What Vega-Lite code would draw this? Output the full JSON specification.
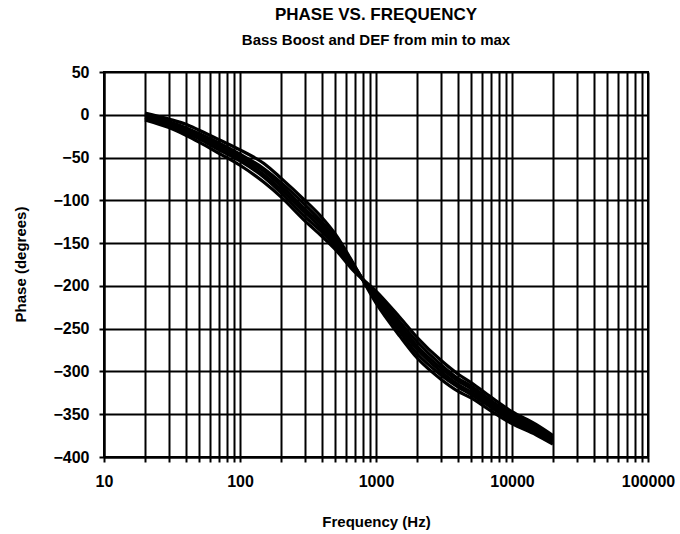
{
  "$schema": "https://vega.github.io/schema/vega-lite/v6.json",
  "width": 544,
  "height": 385,
  "autosize": {"type": "none"},
  "padding": {"left": 104, "top": 72, "right": 32, "bottom": 77},
  "background": "white",
  "title": {
    "text": "PHASE VS. FREQUENCY",
    "subtitle": "Bass Boost and DEF from min to max",
    "anchor": "middle",
    "font": "Liberation Sans",
    "fontSize": 17,
    "fontWeight": "bold",
    "color": "black",
    "subtitleFont": "Liberation Sans",
    "subtitleFontSize": 15,
    "subtitleFontWeight": "bold",
    "subtitleColor": "black",
    "subtitlePadding": 9,
    "offset": 15
  },
  "config": {
    "view": {"stroke": "black", "strokeWidth": 2},
    "axis": {
      "labelFont": "Liberation Sans",
      "labelFontSize": 16,
      "labelFontWeight": "bold",
      "labelColor": "black",
      "titleFont": "Liberation Sans",
      "titleFontSize": 15,
      "titleFontWeight": "bold",
      "titleColor": "black",
      "gridColor": "black",
      "gridOpacity": 1,
      "gridWidth": 2,
      "tickColor": "black",
      "tickWidth": 2,
      "tickSize": 5,
      "domainColor": "black",
      "domainWidth": 2
    }
  },
  "data": {
    "values": [
      {"f":20,"p":-6,"c":"1"},{"f":30,"p":-15,"c":"1"},{"f":40,"p":-24,"c":"1"},{"f":50,"p":-32,"c":"1"},{"f":70,"p":-45,"c":"1"},{"f":100,"p":-59,"c":"1"},{"f":150,"p":-79,"c":"1"},{"f":200,"p":-96,"c":"1"},{"f":300,"p":-124,"c":"1"},{"f":400,"p":-142,"c":"1"},{"f":500,"p":-157,"c":"1"},{"f":700,"p":-184,"c":"1"},{"f":1000,"p":-206,"c":"1"},{"f":1500,"p":-237,"c":"1"},{"f":2000,"p":-260,"c":"1"},{"f":3000,"p":-287,"c":"1"},{"f":4000,"p":-303,"c":"1"},{"f":5000,"p":-313,"c":"1"},{"f":7000,"p":-330,"c":"1"},{"f":10000,"p":-347,"c":"1"},{"f":15000,"p":-362,"c":"1"},{"f":20000,"p":-375,"c":"1"},
      {"f":20,"p":-4,"c":"2"},{"f":30,"p":-12,"c":"2"},{"f":40,"p":-21,"c":"2"},{"f":50,"p":-28,"c":"2"},{"f":70,"p":-41,"c":"2"},{"f":100,"p":-54,"c":"2"},{"f":150,"p":-73,"c":"2"},{"f":200,"p":-91,"c":"2"},{"f":300,"p":-119,"c":"2"},{"f":400,"p":-137,"c":"2"},{"f":500,"p":-153,"c":"2"},{"f":700,"p":-182,"c":"2"},{"f":1000,"p":-209,"c":"2"},{"f":1500,"p":-242,"c":"2"},{"f":2000,"p":-265,"c":"2"},{"f":3000,"p":-292,"c":"2"},{"f":4000,"p":-308,"c":"2"},{"f":5000,"p":-317,"c":"2"},{"f":7000,"p":-334,"c":"2"},{"f":10000,"p":-350,"c":"2"},{"f":15000,"p":-365,"c":"2"},{"f":20000,"p":-378,"c":"2"},
      {"f":20,"p":-3,"c":"3"},{"f":30,"p":-11,"c":"3"},{"f":40,"p":-19,"c":"3"},{"f":50,"p":-26,"c":"3"},{"f":70,"p":-38,"c":"3"},{"f":100,"p":-51,"c":"3"},{"f":150,"p":-70,"c":"3"},{"f":200,"p":-87,"c":"3"},{"f":300,"p":-114,"c":"3"},{"f":400,"p":-133,"c":"3"},{"f":500,"p":-150,"c":"3"},{"f":700,"p":-181,"c":"3"},{"f":1000,"p":-212,"c":"3"},{"f":1500,"p":-246,"c":"3"},{"f":2000,"p":-270,"c":"3"},{"f":3000,"p":-296,"c":"3"},{"f":4000,"p":-311,"c":"3"},{"f":5000,"p":-320,"c":"3"},{"f":7000,"p":-337,"c":"3"},{"f":10000,"p":-353,"c":"3"},{"f":15000,"p":-367,"c":"3"},{"f":20000,"p":-379,"c":"3"},
      {"f":20,"p":-1,"c":"4"},{"f":30,"p":-9,"c":"4"},{"f":40,"p":-17,"c":"4"},{"f":50,"p":-24,"c":"4"},{"f":70,"p":-36,"c":"4"},{"f":100,"p":-49,"c":"4"},{"f":150,"p":-66,"c":"4"},{"f":200,"p":-83,"c":"4"},{"f":300,"p":-110,"c":"4"},{"f":400,"p":-129,"c":"4"},{"f":500,"p":-146,"c":"4"},{"f":700,"p":-179,"c":"4"},{"f":1000,"p":-214,"c":"4"},{"f":1500,"p":-250,"c":"4"},{"f":2000,"p":-274,"c":"4"},{"f":3000,"p":-300,"c":"4"},{"f":4000,"p":-315,"c":"4"},{"f":5000,"p":-324,"c":"4"},{"f":7000,"p":-339,"c":"4"},{"f":10000,"p":-355,"c":"4"},{"f":15000,"p":-369,"c":"4"},{"f":20000,"p":-381,"c":"4"},
      {"f":20,"p":0,"c":"5"},{"f":30,"p":-8,"c":"5"},{"f":40,"p":-15,"c":"5"},{"f":50,"p":-22,"c":"5"},{"f":70,"p":-33,"c":"5"},{"f":100,"p":-46,"c":"5"},{"f":150,"p":-63,"c":"5"},{"f":200,"p":-79,"c":"5"},{"f":300,"p":-105,"c":"5"},{"f":400,"p":-125,"c":"5"},{"f":500,"p":-143,"c":"5"},{"f":700,"p":-178,"c":"5"},{"f":1000,"p":-217,"c":"5"},{"f":1500,"p":-254,"c":"5"},{"f":2000,"p":-279,"c":"5"},{"f":3000,"p":-304,"c":"5"},{"f":4000,"p":-318,"c":"5"},{"f":5000,"p":-327,"c":"5"},{"f":7000,"p":-342,"c":"5"},{"f":10000,"p":-358,"c":"5"},{"f":15000,"p":-371,"c":"5"},{"f":20000,"p":-382,"c":"5"},
      {"f":20,"p":2,"c":"6"},{"f":30,"p":-5,"c":"6"},{"f":40,"p":-11,"c":"6"},{"f":50,"p":-18,"c":"6"},{"f":70,"p":-29,"c":"6"},{"f":100,"p":-41,"c":"6"},{"f":150,"p":-57,"c":"6"},{"f":200,"p":-74,"c":"6"},{"f":300,"p":-100,"c":"6"},{"f":400,"p":-120,"c":"6"},{"f":500,"p":-139,"c":"6"},{"f":700,"p":-177,"c":"6"},{"f":1000,"p":-220,"c":"6"},{"f":1500,"p":-259,"c":"6"},{"f":2000,"p":-284,"c":"6"},{"f":3000,"p":-309,"c":"6"},{"f":4000,"p":-323,"c":"6"},{"f":5000,"p":-331,"c":"6"},{"f":7000,"p":-346,"c":"6"},{"f":10000,"p":-361,"c":"6"},{"f":15000,"p":-374,"c":"6"},{"f":20000,"p":-385,"c":"6"}
    ]
  },
  "mark": {"type": "line", "color": "black", "strokeWidth": 3.2, "interpolate": "monotone"},
  "encoding": {
    "x": {
      "field": "f",
      "type": "quantitative",
      "scale": {"type": "log", "domain": [10, 100000], "nice": false},
      "axis": {
        "title": "Frequency (Hz)",
        "values": [10,20,30,40,50,60,70,80,90,100,200,300,400,500,600,700,800,900,1000,2000,3000,4000,5000,6000,7000,8000,9000,10000,20000,30000,40000,50000,60000,70000,80000,90000,100000],
        "labelExpr": "indexof([10,100,1000,10000,100000], datum.value) >= 0 ? format(datum.value, 'd') : ''",
        "labelOverlap": false,
        "labelFlush": false,
        "labelPadding": 11,
        "titleX": 272,
        "titleY": 64,
        "titleBaseline": "middle",
        "titleAlign": "center"
      }
    },
    "y": {
      "field": "p",
      "type": "quantitative",
      "scale": {"domain": [-400, 50], "nice": false, "zero": false},
      "axis": {
        "title": "Phase (degrees)",
        "values": [-400,-350,-300,-250,-200,-150,-100,-50,0,50],
        "format": "d",
        "labelPadding": 10,
        "titleX": -84,
        "titleY": 192,
        "titleAngle": -90,
        "titleBaseline": "middle",
        "titleAlign": "center"
      }
    },
    "detail": {"field": "c", "type": "nominal"}
  }
}
